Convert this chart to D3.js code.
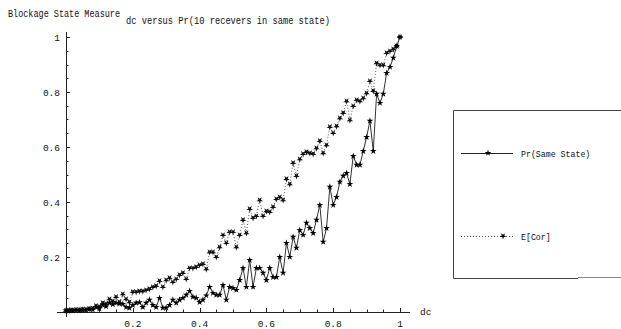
<!DOCTYPE html>
<html lang="en">
<head>
    <meta charset="UTF-8">
    <title>dc versus Pr</title>
    <script src="https://d3js.org/d3.v7.min.js"></script>
    <style>
        body, html {
            margin: 0px;
            background: #fff;
            font-family: 'Liberation Mono', monospace;
        }
        text { fill: #111; }
    </style>
</head>
<body>
    <div id="chart"></div>
    <script>
        // dc sample points (0 .. 1 step 0.01)
        const dc = [0, .01, .02, .03, .04, .05, .06, .07, .08, .09,
            .10, .11, .12, .13, .14, .15, .16, .17, .18, .19,
            .20, .21, .22, .23, .24, .25, .26, .27, .28, .29,
            .30, .31, .32, .33, .34, .35, .36, .37, .38, .39,
            .40, .41, .42, .43, .44, .45, .46, .47, .48, .49,
            .50, .51, .52, .53, .54, .55, .56, .57, .58, .59,
            .60, .61, .62, .63, .64, .65, .66, .67, .68, .69,
            .70, .71, .72, .73, .74, .75, .76, .77, .78, .79,
            .80, .81, .82, .83, .84, .85, .86, .87, .88, .89,
            .90, .91, .92, .93, .94, .95, .96, .97, .98, .99, 1]

        // Pr(Same State)
        const prSame = [.005, .006, .005, .007, .006, .008, .007, .010, .009, .018,
            .012, .025, .020, .033, .028, .033, .030, .029, .018, .015,
            .025, .033, .035, .018, .033, .044, .025, .018, .051, .015,
            .015, .025, .044, .033, .044, .051, .062, .076, .055, .051,
            .036, .044, .060, .091, .069, .062, .062, .098, .044, .091,
            .087, .080, .116, .160, .091, .189, .091, .160, .160, .142,
            .116, .160, .127, .127, .200, .142, .251, .200, .273, .233,
            .298, .280, .324, .305, .287, .335, .389, .255, .305, .455,
            .389, .418, .473, .495, .505, .465, .567, .535, .535, .585,
            .636, .695, .585, .793, .760, .793, .869, .891, .924, .967, 1.0]

        // E[Cor]
        const eCor = [.005, .006, .007, .008, .008, .010, .010, .012, .013, .022,
            .020, .033, .030, .047, .040, .055, .036, .065, .047, .036,
            .073, .073, .076, .076, .080, .084, .091, .095, .113, .091,
            .116, .124, .109, .120, .135, .142, .120, .160, .160, .164,
            .171, .175, .156, .218, .218, .200, .236, .280, .251, .291,
            .291, .236, .280, .335, .287, .375, .342, .349, .407, .349,
            .367, .364, .382, .411, .418, .407, .484, .465, .542, .495,
            .556, .575, .582, .578, .575, .596, .622, .578, .607, .673,
            .651, .676, .705, .724, .767, .698, .749, .771, .767, .778,
            .796, .840, .804, .905, .898, .898, .942, .949, .956, .967, 1.0]

        const xTicks = [0.2, 0.4, 0.6, 0.8, 1]
        const yTicks = [0.2, 0.4, 0.6, 0.8, 1]
        const legendNames = ["Pr(Same State)", "E[Cor]"]

        const width = 621, height = 329

        const svg = d3.select("#chart")
            .append("svg")
            .attr("width", width)
            .attr("height", height)

        const x = d3.scaleLinear().domain([0, 1]).range([66, 400])
        const y = d3.scaleLinear().domain([0, 1]).range([312, 37])

        // titles
        svg.append("text")
            .attr("x", 8).attr("y", 17)
            .attr("font-size", 10)
            .attr("textLength", 112).attr("lengthAdjust", "spacingAndGlyphs")
            .text("Blockage State Measure")
        svg.append("text")
            .attr("x", 126).attr("y", 24)
            .attr("font-size", 10)
            .attr("textLength", 204).attr("lengthAdjust", "spacingAndGlyphs")
            .text("dc versus Pr(10 recevers in same state)")

        // axes lines
        const axisG = svg.append("g").attr("stroke", "#222").attr("stroke-width", 1)
        axisG.append("line")
            .attr("x1", x(-0.027)).attr("x2", x(1.03))
            .attr("y1", y(0) + 0.5).attr("y2", y(0) + 0.5)
        axisG.append("line")
            .attr("x1", x(0) + 0.5).attr("x2", x(0) + 0.5)
            .attr("y1", y(1.018)).attr("y2", y(-0.018))

        // minor ticks
        const minor = d3.range(1, 21).map(i => i * 0.05)
        axisG.selectAll(".xminor").data(minor).enter().append("line")
            .attr("x1", d => Math.round(x(d)) + 0.5).attr("x2", d => Math.round(x(d)) + 0.5)
            .attr("y1", y(0)).attr("y2", d => y(0) - (xTicks.some(t => Math.abs(t - d) < 1e-6) ? 4 : 2.5))
        axisG.selectAll(".yminor").data(minor).enter().append("line")
            .attr("y1", d => Math.round(y(d)) + 0.5).attr("y2", d => Math.round(y(d)) + 0.5)
            .attr("x1", x(0)).attr("x2", d => x(0) + (yTicks.some(t => Math.abs(t - d) < 1e-6) ? 4 : 2.5))

        // tick labels
        svg.selectAll(".xlab").data(xTicks).enter().append("text")
            .attr("x", d => x(d)).attr("y", 327)
            .attr("text-anchor", "middle")
            .attr("font-size", 9.5)
            .text(d => d3.format("~g")(d))
        svg.selectAll(".ylab").data(yTicks).enter().append("text")
            .attr("x", 60).attr("y", d => y(d) + 3.5)
            .attr("text-anchor", "end")
            .attr("font-size", 9.5)
            .text(d => d3.format("~g")(d))
        svg.append("text")
            .attr("x", 420).attr("y", 315)
            .attr("font-size", 9.5)
            .text("dc")

        // lines
        const line = d3.line().x((d, i) => x(dc[i])).y(d => y(d))

        svg.append("path")
            .datum(eCor)
            .attr("d", line)
            .attr("fill", "none")
            .attr("stroke", "#555")
            .attr("stroke-width", 1)
            .attr("stroke-dasharray", "1,2")

        svg.append("path")
            .datum(prSame)
            .attr("d", line)
            .attr("fill", "none")
            .attr("stroke", "#333")
            .attr("stroke-width", 1)

        const star = d3.symbol().type(d3.symbolStar).size(14)

        svg.append("g").selectAll("path")
            .data(eCor).enter().append("path")
            .attr("d", star)
            .attr("transform", (d, i) => `translate(${x(dc[i])},${y(d)}) rotate(180)`)
            .attr("fill", "#111")

        svg.append("g").selectAll("path")
            .data(prSame).enter().append("path")
            .attr("d", star)
            .attr("transform", (d, i) => `translate(${x(dc[i])},${y(d)})`)
            .attr("fill", "#000")

        // legend
        const lg = svg.append("g")
        lg.append("line").attr("x1", 578).attr("x2", 621).attr("y1", 277.5).attr("y2", 277.5)
            .attr("stroke", "#888")
        lg.append("path")
            .attr("d", "M621,110.5 H453.5 V278.5 H578")
            .attr("fill", "none").attr("stroke", "#444")

        const legendRows = [
            { name: legendNames[0], y: 153, dash: null, mx: 488, rot: 0 },
            { name: legendNames[1], y: 236, dash: "1,2", mx: 503, rot: 180 }
        ]
        legendRows.forEach(r => {
            lg.append("line")
                .attr("x1", 461).attr("x2", 513)
                .attr("y1", r.y + 0.5).attr("y2", r.y + 0.5)
                .attr("stroke", r.dash ? "#555" : "#222")
                .attr("stroke-dasharray", r.dash)
            lg.append("path")
                .attr("d", star)
                .attr("transform", `translate(${r.mx},${r.y}) rotate(${r.rot})`)
                .attr("fill", "#000")
            lg.append("text")
                .attr("x", 521).attr("y", r.y + 3.5)
                .attr("font-size", 9)
                .attr("textLength", r.name.length * 4.95).attr("lengthAdjust", "spacingAndGlyphs")
                .text(r.name)
        })
    </script>
</body>
</html>
